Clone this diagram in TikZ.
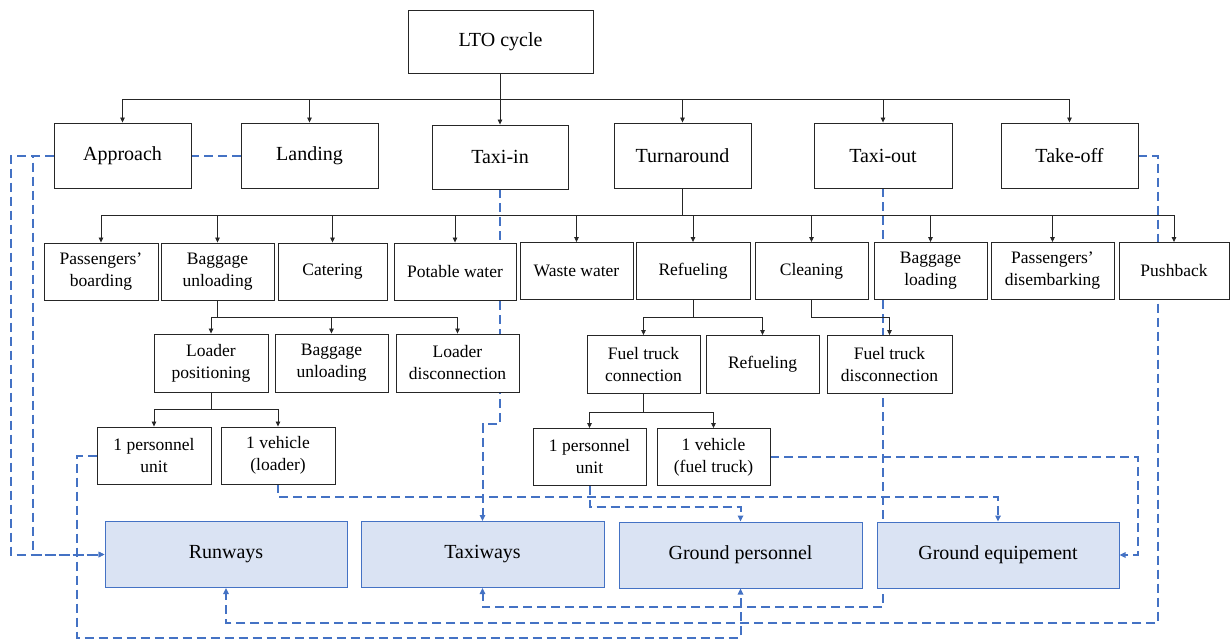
\documentclass[tikz,border=0pt]{standalone}
\usepackage{fontspec}
\setmainfont{Liberation Serif}
\usetikzlibrary{arrows.meta,calc}
\pgfdeclarelayer{bg}
\pgfsetlayers{bg,main}
\definecolor{lblue}{HTML}{4472C4}
\definecolor{lfill}{HTML}{DAE3F3}
\begin{document}
\begin{tikzpicture}[x=1pt,y=-1pt,
 box/.style={draw=black!85, fill=white, line width=0.9pt, inner sep=0pt, align=center},
 lvlone/.style={box, minimum width=137pt, minimum height=65pt, font=\fontsize{20}{24}\selectfont},
 lvltwo/.style={box, minimum height=57pt, font=\fontsize{17.5}{22}\selectfont},
 resbox/.style={draw=lblue, fill=lfill, line width=1pt, inner sep=0pt, minimum width=242pt, minimum height=66pt, font=\fontsize{20}{24}\selectfont},
 treearr/.style={draw=black!85, line width=0.8pt, -{Triangle[length=5pt,width=4.5pt]}},
 dl/.style={draw=lblue, line width=2pt, dash pattern=on 9pt off 5pt},
 da/.style={dl, -{Triangle[length=6pt,width=5.5pt]}}
]
\useasboundingbox (0,0) rectangle (1231,641);

% level 0
\node[box, minimum width=185pt, minimum height=63pt, font=\fontsize{20}{24}\selectfont] (lto) at (500.5,41.5) {LTO cycle};

% level 1
\node[lvlone] (app) at (122.5,155.5) {Approach};
\node[lvlone] (land) at (309.5,155.5) {Landing};
\node[lvlone, minimum width=136pt, minimum height=64pt] (tin) at (500,157) {Taxi-in};
\node[lvlone] (turn) at (682.5,155.5) {Turnaround};
\node[lvlone, minimum width=138pt] (tout) at (883,155.5) {Taxi-out};
\node[lvlone] (toff) at (1069.5,155.5) {Take-off};

% level 2
\node[lvltwo, minimum width=114pt] (pb) at (101,271.5) {Passengers’\\boarding};
\node[lvltwo, minimum width=113pt] (bu) at (217.5,271.5) {Baggage\\unloading};
\node[lvltwo, minimum width=109pt] (cat) at (332.5,271.5) {Catering};
\node[lvltwo, minimum width=122pt] (pw) at (455,271.5) {Potable water};
\node[lvltwo, minimum width=113pt] (ww) at (576.5,271) {Waste water};
\node[lvltwo, minimum width=114pt] (ref) at (693,271) {Refueling};
\node[lvltwo, minimum width=113pt] (cl) at (811.5,271) {Cleaning};
\node[lvltwo, minimum width=113pt] (bl) at (930.5,271) {Baggage\\loading};
\node[lvltwo, minimum width=123pt] (pd) at (1052.5,271) {Passengers’\\disembarking};
\node[lvltwo, minimum width=110pt] (push) at (1174,271) {Pushback};

% level 3
\node[lvltwo, minimum width=114pt, minimum height=58pt] (lp) at (211,363) {Loader\\positioning};
\node[lvltwo, minimum width=113pt, minimum height=58pt] (bu2) at (331.5,363) {Baggage\\unloading};
\node[lvltwo, minimum width=123pt, minimum height=58pt] (ld) at (457.5,363) {Loader\\disconnection};
\node[lvltwo, minimum width=113pt, minimum height=58pt] (ftc) at (643.5,364.5) {Fuel truck\\connection};
\node[lvltwo, minimum width=113pt, minimum height=58pt] (ref2) at (762.5,364.5) {Refueling};
\node[lvltwo, minimum width=125pt, minimum height=58pt] (ftd) at (889.5,364.5) {Fuel truck\\disconnection};

% level 4
\node[lvltwo, minimum width=114pt] (pu1) at (154,455.5) {1 personnel\\unit};
\node[lvltwo, minimum width=114pt] (v1) at (278,455.5) {1 vehicle\\(loader)};
\node[lvltwo, minimum width=113pt] (pu2) at (589.5,457) {1 personnel\\unit};
\node[lvltwo, minimum width=113pt] (v2) at (713.5,457) {1 vehicle\\(fuel truck)};

% resources
\node[resbox] (run) at (226,554.5) {Runways};
\node[resbox, minimum width=243pt] (taxi) at (482.5,554.5) {Taxiways};
\node[resbox, minimum width=243pt] (gp) at (740.5,555) {Ground personnel};
\node[resbox] (ge) at (998,555) {Ground equipement};

% tree connectors
\foreach \c in {app,land,tin,turn,tout,toff}
  \draw[treearr] (lto.south) -- ++(0,26) -| (\c.north);
\draw[draw=black!85, line width=1.6pt] (turn.south) -- ++(0,27);
\foreach \c in {pb,bu,cat,pw,ww,ref,cl,bl,pd,push}
  \draw[treearr] (turn.south) -- ++(0,27) -| (\c.north);
\foreach \c in {lp,bu2,ld}
  \draw[treearr] (bu.south) -- ++(0,17) -| (\c.north);
\foreach \c in {ftc,ref2}
  \draw[treearr] (ref.south) -- ++(0,17) -| (\c.north);
\draw[treearr] (cl.south) -- ++(0,17) -| (ftd.north);
\foreach \c in {pu1,v1}
  \draw[treearr] (lp.south) -- ++(0,17) -| (\c.north);
\foreach \c in {pu2,v2}
  \draw[treearr] (ftc.south) -- ++(0,18) -| (\c.north);

% dashed resource links (behind boxes)
\begin{pgfonlayer}{bg}
\draw[dl] (land.west) -- (app.east);
\draw[da] (app.west) -- ++(-43,0) |- (run.west);
\draw[da] (app.west) -- ++(-21,0) |- (run.west);
\draw[da] (tin.south) -- ++(0,235) -| (taxi.north);
\draw[da] (tout.south) -- ++(0,419) -| (taxi.south);
\draw[da] (toff.east) -- ++(20,0) -- ++(0,467) -| (run.south);
\draw[da] (pu1.west) -- ++(-20,0) -- ++(0,182) -| (gp.south);
\draw[da] (v1.south) -- ++(0,13) -| (ge.north);
\draw[da] (pu2.south) -- ++(0,21) -| (gp.north);
\draw[da] (v2.east) -- ++(368,0) |- (ge.east);
\end{pgfonlayer}
\end{tikzpicture}
\end{document}
